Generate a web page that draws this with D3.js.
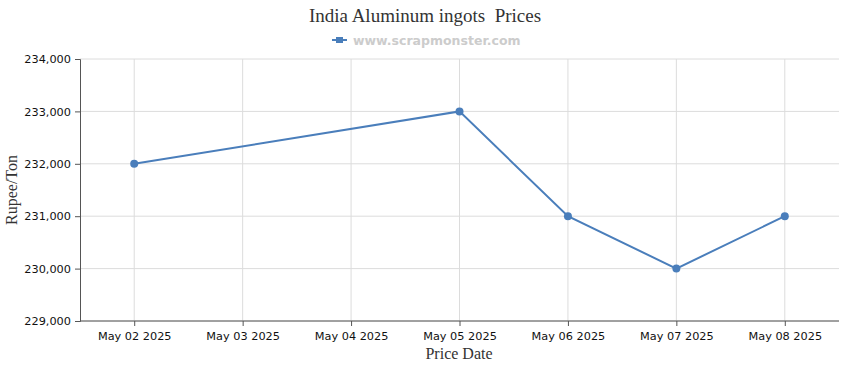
<!DOCTYPE html>
<html>
<head>
<meta charset="utf-8">
<script src="https://cdn.jsdelivr.net/npm/d3@7"></script>
<style>
  body { margin: 0; background: #fff; }
  .tick text { font-family: Tahoma, "DejaVu Sans", sans-serif; font-size: 11.3px; fill: #111; }
</style>
</head>
<body>
<div id="chart"></div>
<script>
// Data
let dates = ["May 02 2025", "May 03 2025", "May 04 2025", "May 05 2025",
             "May 06 2025", "May 07 2025", "May 08 2025"];
let priceDates = ["May 02 2025", "May 05 2025", "May 06 2025", "May 07 2025", "May 08 2025"];
let prices = [232000, 233000, 231000, 230000, 231000];
let yTicks = [229000, 230000, 231000, 232000, 233000, 234000];

let width = 850, height = 370;
let margin = { left: 80, right: 11, top: 59, bottom: 49 };

let svg = d3.select("#chart").append("svg")
  .attr("width", width)
  .attr("height", height);

let xScale = d3.scalePoint().domain(dates)
  .range([margin.left, width - margin.right]).padding(0.5);
let yScale = d3.scaleLinear().domain([229000, 234000])
  .range([height - margin.bottom, margin.top]);

// gridlines
svg.append("g").selectAll("line.h")
  .data(yTicks).enter().append("line")
  .attr("x1", margin.left).attr("x2", width - margin.right)
  .attr("y1", d => yScale(d)).attr("y2", d => yScale(d))
  .attr("stroke", "#dcdcdc");
svg.append("g").selectAll("line.v")
  .data(dates).enter().append("line")
  .attr("x1", d => xScale(d)).attr("x2", d => xScale(d))
  .attr("y1", margin.top).attr("y2", height - margin.bottom)
  .attr("stroke", "#dcdcdc");

// axes
let xAxis = svg.append("g")
  .attr("transform", "translate(0," + (height - margin.bottom) + ")")
  .call(d3.axisBottom(xScale).tickSizeOuter(0).tickSize(5).tickPadding(6));
let yAxis = svg.append("g")
  .attr("transform", "translate(" + margin.left + ",0)")
  .call(d3.axisLeft(yScale).tickValues(yTicks).tickFormat(d3.format(",")).tickSizeOuter(0).tickSize(5).tickPadding(4));
xAxis.select(".domain").attr("stroke", "#555")
  .attr("d", "M" + margin.left + ",0H" + (width - margin.right));
yAxis.select(".domain").attr("stroke", "#555");
svg.selectAll(".tick line").attr("stroke", "#555");

// line
let line = d3.line()
  .x((d, i) => xScale(priceDates[i]))
  .y(d => yScale(d));
svg.append("path")
  .datum(prices)
  .attr("d", line)
  .attr("fill", "none")
  .attr("stroke", "#4a7ebb")
  .attr("stroke-width", 2);
svg.append("g").selectAll("circle")
  .data(prices).enter().append("circle")
  .attr("cx", (d, i) => xScale(priceDates[i]))
  .attr("cy", d => yScale(d))
  .attr("r", 4)
  .attr("fill", "#4a7ebb");

// title and legend
svg.append("text")
  .attr("x", 425).attr("y", 22)
  .attr("text-anchor", "middle")
  .style("white-space", "pre")
  .attr("font-family", "'Liberation Serif', 'DejaVu Serif', serif")
  .attr("font-size", 19).attr("fill", "#333")
  .text("India Aluminum ingots  Prices");
svg.append("line")
  .attr("x1", 332).attr("x2", 347).attr("y1", 40).attr("y2", 40)
  .attr("stroke", "#4a7ebb").attr("stroke-width", 2);
svg.append("rect")
  .attr("x", 336).attr("y", 37).attr("width", 7).attr("height", 6)
  .attr("fill", "#4a7ebb");
svg.append("text")
  .attr("x", 353).attr("y", 45)
  .attr("font-family", "Tahoma, 'DejaVu Sans', sans-serif")
  .attr("font-size", 12.5).attr("font-weight", "bold").attr("fill", "#cccccc")
  .text("www.scrapmonster.com");

// axis titles
svg.append("text")
  .attr("x", 459).attr("y", 359)
  .attr("text-anchor", "middle")
  .attr("font-family", "'Liberation Serif', 'DejaVu Serif', serif")
  .attr("font-size", 16).attr("fill", "#333")
  .text("Price Date");
svg.append("text")
  .attr("transform", "translate(17," + ((margin.top + height - margin.bottom) / 2) + ") rotate(-90)")
  .attr("text-anchor", "middle")
  .attr("font-family", "'Liberation Serif', 'DejaVu Serif', serif")
  .attr("font-size", 16).attr("fill", "#333")
  .text("Rupee/Ton");
</script>
</body>
</html>
